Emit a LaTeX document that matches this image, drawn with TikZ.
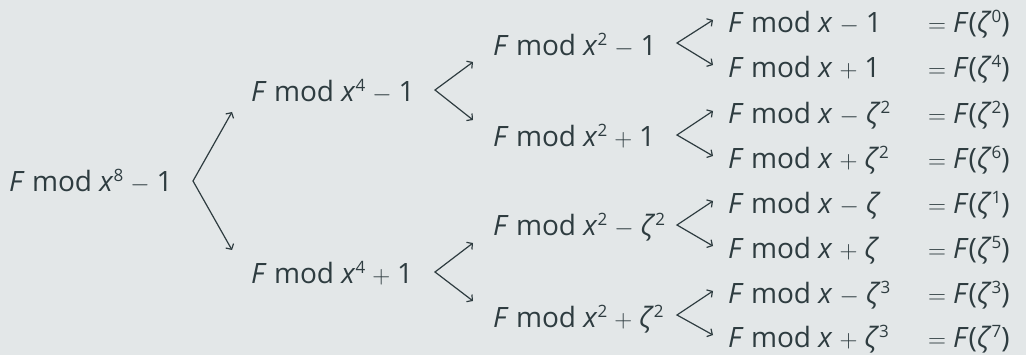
\documentclass[tikz,border=0pt]{standalone}
\usepackage{fontspec}
\setmainfont{Open Sans}
\usetikzlibrary{arrows.meta}
\definecolor{bgc}{RGB}{227,231,232}
\definecolor{ink}{RGB}{46,60,64}
\newcommand\vF{\textit{F}}
\newcommand\vx{\textit{x}}
\newcommand\zt{\textit{ζ}}
\newcommand\pw[1]{\raisebox{10pt}{\fontsize{17}{17}\selectfont #1}}
\newcommand\mi{\hspace{0.25em}$-$\hspace{0.25em}}
\newcommand\pl{\hspace{0.25em}$+$\hspace{0.25em}}
\newcommand\eq{$=$\hspace{0.25em}}
\tikzset{
  lbl/.style={anchor=base west, inner sep=0pt, text=ink, font=\fontsize{28}{34}\selectfont},
  split/.style={draw=ink, line width=1.2pt, line join=miter,
    {Straight Barb[length=4pt,width=9pt]}-{Straight Barb[length=4pt,width=9pt]}}
}
\begin{document}
\begin{tikzpicture}[x=1pt,y=-1pt]
\fill[bgc] (0,0) rectangle (1026,355);
\useasboundingbox (0,0) rectangle (1026,355);

% root
\node[lbl] (r) at (9,192) {\vF\ mod \vx\pw{8}\mi 1};

% first split
\node[lbl] (a) at (251,102) {\vF\ mod \vx\pw{4}\mi 1};
\node[lbl] (b) at (251,284) {\vF\ mod \vx\pw{4}\pl 1};

% second split
\node[lbl] (aa) at (493,56)  {\vF\ mod \vx\pw{2}\mi 1};
\node[lbl] (ab) at (493,147) {\vF\ mod \vx\pw{2}\pl 1};
\node[lbl] (ba) at (493,236) {\vF\ mod \vx\pw{2}\mi\zt\pw{2}};
\node[lbl] (bb) at (493,328) {\vF\ mod \vx\pw{2}\pl\zt\pw{2}};

% linear factors
\node[lbl] (l0) at (728,33)  {\vF\ mod \vx\mi 1};
\node[lbl] (l1) at (728,78)  {\vF\ mod \vx\pl 1};
\node[lbl] (l2) at (728,124) {\vF\ mod \vx\mi\zt\pw{2}};
\node[lbl] (l3) at (728,169) {\vF\ mod \vx\pl\zt\pw{2}};
\node[lbl] (l4) at (728,214) {\vF\ mod \vx\mi\zt};
\node[lbl] (l5) at (728,259) {\vF\ mod \vx\pl\zt};
\node[lbl] (l6) at (728,304) {\vF\ mod \vx\mi\zt\pw{3}};
\node[lbl] (l7) at (728,348) {\vF\ mod \vx\pl\zt\pw{3}};

% evaluations
\node[lbl] (e0) at (928,33)  {\eq\vF(\zt\pw{0})};
\node[lbl] (e1) at (928,78)  {\eq\vF(\zt\pw{4})};
\node[lbl] (e2) at (928,124) {\eq\vF(\zt\pw{2})};
\node[lbl] (e3) at (928,169) {\eq\vF(\zt\pw{6})};
\node[lbl] (e4) at (928,214) {\eq\vF(\zt\pw{1})};
\node[lbl] (e5) at (928,259) {\eq\vF(\zt\pw{5})};
\node[lbl] (e6) at (928,304) {\eq\vF(\zt\pw{3})};
\node[lbl] (e7) at (928,348) {\eq\vF(\zt\pw{7})};

% branch points and arrow ends
\coordinate (v0) at (193,181);
\coordinate (t0a) at (232,112);
\coordinate (t0b) at (232,250);
\coordinate (va) at (435,90);
\coordinate (taa) at (473,62);
\coordinate (tab) at (473,120);
\coordinate (vb) at (435,272);
\coordinate (tba) at (473,243);
\coordinate (tbb) at (473,301);
\coordinate (vaa) at (677,43);
\coordinate (vab) at (677,135);
\coordinate (vba) at (677,225);
\coordinate (vbb) at (677,315);
\coordinate (t0) at (713,20);
\coordinate (t1) at (713,65);
\coordinate (t2) at (713,111);
\coordinate (t3) at (713,156);
\coordinate (t4) at (713,201);
\coordinate (t5) at (713,246);
\coordinate (t6) at (713,291);
\coordinate (t7) at (713,335);

\draw[split] (t0a) -- (v0) -- (t0b);
\draw[split] (taa) -- (va) -- (tab);
\draw[split] (tba) -- (vb) -- (tbb);
\draw[split] (t0) -- (vaa) -- (t1);
\draw[split] (t2) -- (vab) -- (t3);
\draw[split] (t4) -- (vba) -- (t5);
\draw[split] (t6) -- (vbb) -- (t7);
\end{tikzpicture}
\end{document}
